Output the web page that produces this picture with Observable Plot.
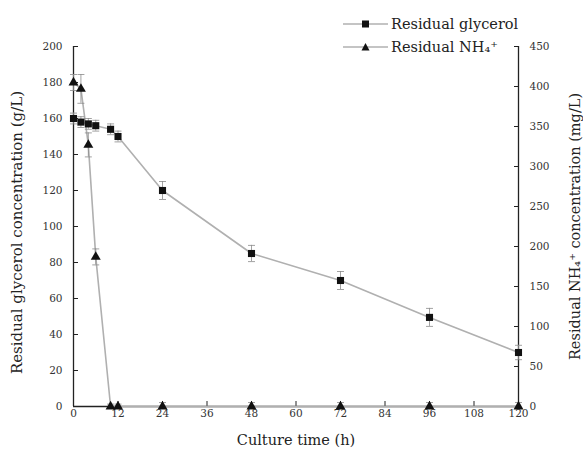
<!DOCTYPE html>
<html>
<head>
<meta charset="utf-8">
<script src="https://cdn.jsdelivr.net/npm/d3@7"></script>
<script src="https://cdn.jsdelivr.net/npm/@observablehq/plot@0.6"></script>
<style>
  html, body { margin: 0; padding: 0; background: #fff; }
  #wrap { position: relative; width: 583px; height: 456px; font-family: "DejaVu Serif", serif; }
  #legend { position: absolute; left: 343px; top: 12px; font-size: 14.5px; color: #222; }
  #legend .row { display: flex; align-items: center; height: 23px; }
  #legend svg { margin-right: 3px; }
</style>
</head>
<body>
<div id="wrap">
  <div id="chart"></div>
  <div id="legend"></div>
</div>
<script>
// ---- data ----
const time        = [0, 2, 4, 6, 10, 12, 24, 48, 72, 96, 120];          // Culture time (h)
const glycerol    = [160, 158, 157, 156, 154, 150, 120, 85, 70, 49.5, 30]; // g/L
const glycerolErr = [3, 3, 3, 3, 3, 3, 5, 4.5, 5, 5, 4];
const nh4         = [405, 397, 327, 187, 0, 0, 0, 0, 0, 0, 0];           // mg/L
const nh4Err      = [10, 18, 15, 10, 3, 3, 5, 5, 5, 5, 5];
const xTicks      = [0, 12, 24, 36, 48, 60, 72, 84, 96, 108, 120];
const leftTicks   = [0, 20, 40, 60, 80, 100, 120, 140, 160, 180, 200];
const rightTicks  = [0, 50, 100, 150, 200, 250, 300, 350, 400, 450];
const seriesNames = ["Residual glycerol", "Residual NH\u2084\u207A"];

// right axis (0–450 mg/L) mapped onto left scale (0–200 g/L)
const k = 200 / 450;
const gly = time.map((t, i) => ({t, v: glycerol[i], e: glycerolErr[i]}));
const amm = time.map((t, i) => ({t, v: nh4[i] * k, e: nh4Err[i] * k}));

const lineColor = "#b0b0b0";
const markColor = "#111";
const axisColor = "#222";
const errColor = "#8a8a8a";
const font = "DejaVu Serif";

const cap = {draw(ctx, size) { const r = Math.sqrt(size / Math.PI); ctx.moveTo(-r, 0); ctx.lineTo(r, 0); }};

const plot = Plot.plot({
  width: 583,
  height: 456,
  marginLeft: 73,
  marginRight: 65,
  marginTop: 46,
  marginBottom: 50,
  style: {fontFamily: font, fontSize: "10.5px", color: "#333", background: "#fff"},
  x: {domain: [0, 120]},
  y: {domain: [0, 200]},
  marks: [
    Plot.axisX(xTicks, {tickSize: -5, tickPadding: 8, label: null, stroke: axisColor}),
    Plot.axisY(leftTicks, {anchor: "left", tickSize: -5, tickPadding: 16, label: null, stroke: axisColor}),
    Plot.axisY(rightTicks.map(d => d * k), {anchor: "right", tickSize: -5, tickPadding: 16, label: null, stroke: axisColor,
      tickFormat: d => String(Math.round(d / k))}),
    Plot.ruleX([0], {stroke: axisColor, strokeWidth: 1.3}),
    Plot.ruleX([120], {stroke: axisColor, strokeWidth: 1.3}),
    Plot.ruleY([0], {stroke: axisColor, strokeWidth: 1.3}),
    // lines
    Plot.line(gly, {x: "t", y: "v", stroke: lineColor, strokeWidth: 1.6}),
    Plot.line(amm, {x: "t", y: "v", stroke: lineColor, strokeWidth: 1.6}),
    // error bars
    Plot.ruleX(gly, {x: "t", y1: d => d.v - d.e, y2: d => d.v + d.e, stroke: errColor, strokeWidth: 0.8}),
    Plot.dot(gly, {x: "t", y: d => d.v + d.e, symbol: cap, r: 3.5, stroke: errColor, strokeWidth: 0.8}),
    Plot.dot(gly, {x: "t", y: d => d.v - d.e, symbol: cap, r: 3.5, stroke: errColor, strokeWidth: 0.8}),
    Plot.ruleX(amm, {x: "t", y1: d => Math.max(0, d.v - d.e), y2: d => d.v + d.e, stroke: errColor, strokeWidth: 0.8}),
    Plot.dot(amm, {x: "t", y: d => d.v + d.e, symbol: cap, r: 3.5, stroke: errColor, strokeWidth: 0.8}),
    Plot.dot(amm.filter(d => d.v - d.e > 0), {x: "t", y: d => d.v - d.e, symbol: cap, r: 3.5, stroke: errColor, strokeWidth: 0.8}),
    // markers
    Plot.dot(gly, {x: "t", y: "v", symbol: "square", r: 4, fill: markColor}),
    Plot.dot(amm, {x: "t", y: "v", symbol: "triangle", r: 3.7, fill: markColor}),
    // axis titles
    Plot.text(["Culture time (h)"], {frameAnchor: "bottom", dy: 38, fontSize: 14.5, fill: "#222"}),
    Plot.text(["Residual glycerol concentration (g/L)"], {frameAnchor: "left", textAnchor: "middle", dx: -56, dy: 6, rotate: -90, fontSize: 15, fill: "#222"}),
    Plot.text(["Residual NH\u2084\u207A concentration (mg/L)"], {frameAnchor: "right", textAnchor: "middle", dx: 57, rotate: -90, fontSize: 14.5, fill: "#222"})
  ]
});
document.getElementById("chart").appendChild(plot);

// legend
const legend = document.getElementById("legend");
seriesNames.forEach((name, i) => {
  const row = document.createElement("div");
  row.className = "row";
  const sym = i === 0
    ? '<rect x="19" y="7.5" width="7" height="7" fill="' + markColor + '"/>'
    : '<path d="M22.5,7 L26.5,14.5 L18.5,14.5 Z" fill="' + markColor + '"/>';
  row.innerHTML = '<svg width="45" height="22"><line x1="0" x2="45" y1="11" y2="11" stroke="' + lineColor + '" stroke-width="1.6"/>' + sym + '</svg><span>' + name + '</span>';
  legend.appendChild(row);
});
</script>
</body>
</html>
